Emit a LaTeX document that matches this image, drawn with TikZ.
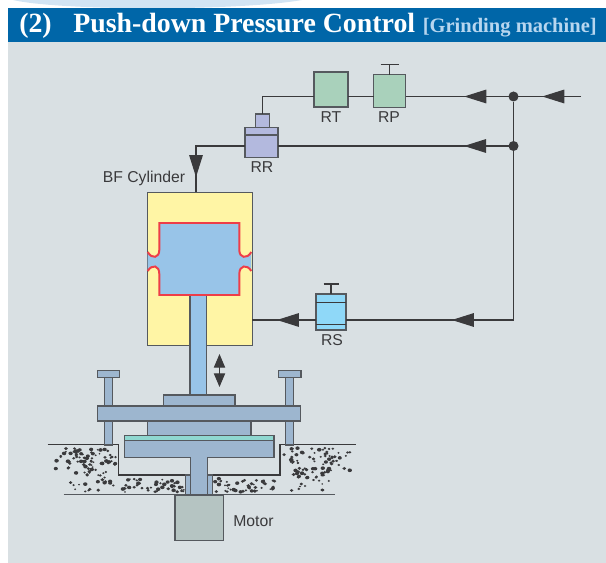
\documentclass[tikz,border=0pt]{standalone}
\usepackage{fontspec}
\setmainfont{Liberation Sans}
\newfontfamily\titlefont{Liberation Serif}
\usetikzlibrary{arrows.meta,decorations.markings}
\newcommand{\px}{0.025cm}
\definecolor{headblue}{HTML}{0066A8}
\definecolor{panelgray}{HTML}{D9E0E3}
\definecolor{swirlblue}{HTML}{D2E4F3}
\definecolor{wire}{HTML}{3A3A3C}
\definecolor{edgegray}{HTML}{55595E}
\definecolor{steel}{HTML}{9DB6CF}
\definecolor{oilblue}{HTML}{98C4E8}
\definecolor{oilred}{HTML}{EE3D48}
\definecolor{cylyellow}{HTML}{FFF5A5}
\definecolor{valvegreen}{HTML}{A9D1BB}
\definecolor{valveviolet}{HTML}{B3B9DE}
\definecolor{valvecyan}{HTML}{8FD8F8}
\definecolor{plateteal}{HTML}{8FD8D0}
\definecolor{motorgray}{HTML}{B5C4C2}
\tikzset{
    wireline/.style={draw=wire,line width=0.8pt},
    headat/.style={postaction={decorate},decoration={markings,
        mark=at position #1 with {\arrow{Triangle[length=0.55cm,width=0.34cm,wire]}}}},
    valve/.style={draw=edgegray,line width=0.8pt,inner sep=0pt,outer sep=0pt},
    part/.style={draw=edgegray,fill=steel,line width=0.8pt},
    redline/.style={draw=oilred,line width=1.4pt},
    joint/.style={circle,fill=wire,inner sep=0pt,minimum size=10*\px},
    lab/.style={font=\fontsize{11.2pt}{13pt}\selectfont,text=wire,inner sep=0pt},
}
% scatter of small stones: x0, x1, y0, y1, count
\newcommand{\stones}[5]{
    \foreach \n in {1,...,#5} {
        \pgfmathsetmacro{\sx}{#1+(#2-#1)*rnd}
        \pgfmathsetmacro{\sy}{#3+(#4-#3)*rnd}
        \pgfmathsetmacro{\sr}{0.8+1.1*rnd}
        \fill[wire] (\sx,\sy) ellipse[x radius=\sr*1.2,y radius=\sr];
    }
}
\begin{document}
\begin{tikzpicture}[x=0.025cm,y=-0.025cm]
    \pgfmathsetseed{4217}
    \useasboundingbox (0,0) rectangle (606,563);
    %% Page and heading
    \fill[swirlblue] (13,0) .. controls (60,11) and (240,11) .. (302,0) -- cycle;
    \fill[panelgray] (8,42) rectangle (606,563);
    \fill[headblue] (8,8) rectangle (606,42);
    \node[anchor=base west,inner sep=0pt,text=white,font=\titlefont\bfseries\fontsize{19.8pt}{22pt}\selectfont] (Num) at (19,33) {(2)};
    \node[anchor=base west,inner sep=0pt,text=white,font=\titlefont\bfseries\fontsize{19.8pt}{22pt}\selectfont] (Title) at (73,33) {Push-down Pressure Control};
    \node[anchor=base east,inner sep=0pt,text=oilblue!70!white,font=\titlefont\bfseries\fontsize{14.6pt}{16pt}\selectfont] (Sub) at (597,33) {[Grinding machine]};
    %% Valves
    \node[valve,fill=valvegreen,minimum width=34*\px,minimum height=35*\px] (RT) at (331,89.5) {};
    \node[valve,fill=valvegreen,minimum width=32*\px,minimum height=32.5*\px] (RP) at (389.5,91) {};
    \node[valve,fill=valveviolet,minimum width=33*\px,minimum height=29.5*\px] (RR) at (261.5,142.5) {};
    \node[valve,fill=valveviolet,minimum width=14.5*\px,minimum height=13.5*\px] (RRtop) at (262.5,120.8) {};
    \node[valve,fill=valvecyan,minimum width=30*\px,minimum height=36*\px] (RS) at (331,312) {};
    \draw[valve] (RR.west |- 0,135) -- (RR.east |- 0,135);
    \draw[wire,line width=0.7pt] (RS.west |- 0,302.3) -- (RS.east |- 0,302.3);
    \draw[wire,line width=0.7pt] (RS.west |- 0,324.3) -- (RS.east |- 0,324.3);
    \draw[wireline] (RP.north) -- ++(0,-10) ++(-9,0) -- ++(18,0);
    \draw[wireline] (RS.north) -- ++(0,-10) ++(-7.5,0) -- ++(15,0);
    \node[lab,anchor=center] (RTlab) at (331,117) {RT};
    \node[lab,anchor=center] (RPlab) at (389,117) {RP};
    \node[lab,anchor=center] (RRlab) at (262,167) {RR};
    \node[lab,anchor=center] (RSlab) at (332,340.5) {RS};
    %% Cylinder
    \node[draw=edgegray,fill=cylyellow,line width=0.7pt,inner sep=0pt,outer sep=0pt,minimum width=105*\px,minimum height=152.5*\px] (Cyl) at (199.5,268.8) {};
    \node[lab,anchor=center] (Cyllab) at (144,178) {BF Cylinder};
    \fill[oilblue] (159.3,223) -- (239.3,223) -- (239.3,250) .. controls (239.3,258) and (247,259.5) .. (251.3,252)
        -- (251.3,271) .. controls (247,264) and (239.3,265) .. (239.3,274) -- (239.3,295) -- (159.3,295) -- (159.3,274)
        .. controls (159.3,265) and (152,264) .. (147.7,271) -- (147.7,252) .. controls (152,259.5) and (159.3,258) .. (159.3,250) -- cycle;
    \draw[redline] (147.7,252) .. controls (152,259.5) and (159.3,258) .. (159.3,250) -- (159.3,223) -- (239.3,223) -- (239.3,250)
        .. controls (239.3,258) and (247,259.5) .. (251.3,252);
    \draw[redline] (147.7,271) .. controls (152,264) and (159.3,265) .. (159.3,274) -- (159.3,295) -- (239.3,295) -- (239.3,274)
        .. controls (239.3,265) and (247,264) .. (251.3,271);
    %% Rod
    \fill[oilblue] (190,296) rectangle (206.5,395);
    \draw[edgegray,line width=0.8pt] (190,296) -- (190,395) (206.5,296) -- (206.5,395);
    \coordinate (MoveTop) at (219.5,354);
    \coordinate (MoveBot) at (219.5,387);
    \draw[wireline,{Triangle[length=0.34cm,width=0.28cm,wire]}-{Triangle[length=0.34cm,width=0.28cm,wire]}] (MoveTop) -- (MoveBot);
    %% Piping
    \node[joint] (J1) at (513.5,96.5) {};
    \node[joint] (J2) at (513.5,146) {};
    \coordinate (Inlet) at (581,96.5);
    \coordinate (CylIn) at (196,192.5);
    \coordinate (CylOut) at (252,320);
    \draw[wireline] (J1) -- (J2);
    \draw[wireline,headat=0.574] (Inlet) -- (J1.center);
    \draw[wireline,headat=0.456] (J1.center) -- (RP.east |- J1);
    \draw[wireline] (RP.west |- J1) -- (RT.east |- J1);
    \draw[wireline] (RT.west |- J1) -| (RRtop.north);
    \draw[wireline,headat=0.21] (J2.center) -- (RR.east |- J2);
    \draw[wireline,headat=0.838] (RR.west |- J2) -| (CylIn);
    \draw[wireline,headat=0.69] (J2.center) |- (RS.east |- CylOut);
    \draw[wireline,headat=0.61] (RS.west |- CylOut) -- (CylOut);
    %% Stones
    \stones{54}{116}{448}{472}{70}
    \stones{64}{116}{472}{492}{26}
    \stones{118}{184}{478}{492}{46}
    \stones{284}{350}{448}{472}{70}
    \stones{284}{336}{472}{492}{26}
    \stones{214}{280}{478}{492}{46}
    %% Ground
    \draw[wireline] (47.5,444.5) -- (118.5,444.5) -- (118.5,475) -- (185.5,475);
    \draw[wireline] (355.5,444.5) -- (280,444.5) -- (280,475) -- (213,475);
    \draw[edgegray,line width=0.7pt] (63.5,494.7) -- (335,494.7);
    %% Machine
    \draw[part] (185.7,475) rectangle (212.7,494.7);
    \draw[part] (104.3,377) rectangle (112.3,445);
    \draw[part] (97.3,370.5) rectangle (119.7,377.5);
    \draw[part] (285.7,377) rectangle (293.7,445);
    \draw[part] (278.3,370.5) rectangle (301,377.5);
    \draw[part] (163.5,395) rectangle (235,406);
    \draw[part] (147.3,421) rectangle (251,435.3);
    \draw[part] (97.7,406) rectangle (300.3,421);
    \draw[part,fill=plateteal] (124.4,435.3) rectangle (274,440.4);
    \draw[part] (190.3,457) rectangle (207.7,494.7);
    \draw[part] (124.4,440.4) rectangle (274,457.3);
    \fill[steel] (191,456) rectangle (207,459);
    %% Motor
    \node[draw=edgegray,fill=motorgray,line width=0.8pt,inner sep=0pt,minimum width=48.5*\px,minimum height=45.5*\px] (Motor) at (199.2,517.7) {};
    \node[lab,anchor=west] (Motorlab) at (233,521) {Motor};
\end{tikzpicture}
\end{document}
